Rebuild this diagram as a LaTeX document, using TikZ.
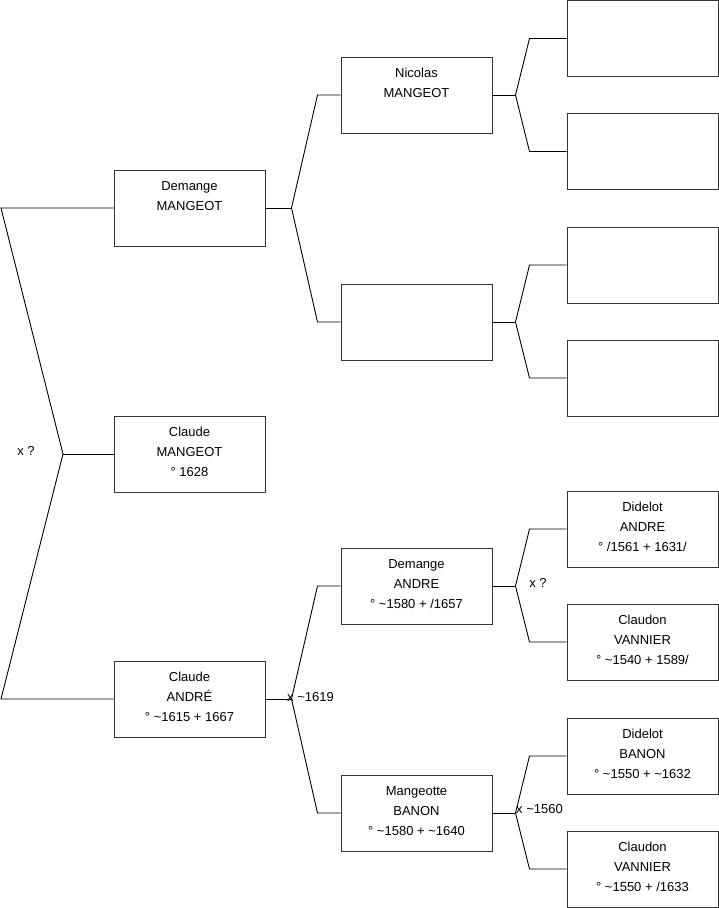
\documentclass[tikz,border=0pt]{standalone}
\usepackage{fontspec}
\setmainfont{Liberation Sans}
\newcommand\lastrow{\rule[-10pt]{0pt}{10pt}}
\begin{document}
\begin{tikzpicture}[x=1pt,y=-1pt,
  box/.style={draw=black!80, line width=1pt, minimum width=151pt, minimum height=76pt, inner sep=0pt, align=center, font=\fontsize{13}{20}\selectfont},
  conn/.style={line width=0.9pt, black},
  lbl/.style={font=\fontsize{13}{15}\selectfont, inner sep=0pt}]
\useasboundingbox (0,0) rectangle (719,908);
% left column
\node[box] (dm) at (189.5,208) {\strut Demange\\\strut MANGEOT\\\lastrow};
\node[box] (cm) at (189.5,454) {\strut Claude\\\strut MANGEOT\\\lastrow° 1628};
\node[box] (ca) at (189.5,699) {\strut Claude\\\strut ANDRÉ\\\lastrow° \textasciitilde1615 + 1667};
% middle column
\node[box] (nm) at (416.5,95) {\strut Nicolas\\\strut MANGEOT\\\lastrow};
\node[box] (e1) at (416.5,322) {};
\node[box] (da) at (416.5,586) {\strut Demange\\\strut ANDRE\\\lastrow° \textasciitilde1580 + /1657};
\node[box] (mb) at (416.5,813) {\strut Mangeotte\\\strut BANON\\\lastrow° \textasciitilde1580 + \textasciitilde1640};
% right column
\node[box] (r1) at (642.5,38.5) {};
\node[box] (r2) at (642.5,151.5) {};
\node[box] (r3) at (642.5,265) {};
\node[box] (r4) at (642.5,378) {};
\node[box] (r5) at (642.5,529) {\strut Didelot\\\strut ANDRE\\\lastrow° /1561 + 1631/};
\node[box] (r6) at (642.5,642) {\strut Claudon\\\strut VANNIER\\\lastrow° \textasciitilde1540 + 1589/};
\node[box] (r7) at (642.5,756) {\strut Didelot\\\strut BANON\\\lastrow° \textasciitilde1550 + \textasciitilde1632};
\node[box] (r8) at (642.5,869) {\strut Claudon\\\strut VANNIER\\\lastrow° \textasciitilde1550 + /1633};
% left bracket
\coordinate (L1) at (1,208);
\coordinate (L2) at (1,699);
\coordinate (f0) at (63,454);
\draw[conn] (dm.west) -- (L1) -- (f0) -- (L2) -- (ca.west);
\draw[conn] (f0) -- (cm.west);
\node[lbl] (x0) at (26,451) {x ?};
% forks from left column
\draw[conn] (dm.east) -- ++(26,0) coordinate (f1);
\draw[conn] (nm.west) -- ([xshift=-23pt]nm.west) -- (f1) -- ([xshift=-23pt]e1.west) -- (e1.west);
\draw[conn] (ca.east) -- ++(26,0) coordinate (f2);
\draw[conn] (da.west) -- ([xshift=-23pt]da.west) -- (f2) -- ([xshift=-23pt]mb.west) -- (mb.west);
\node[lbl, anchor=west] (x1) at (287,697) {x \textasciitilde1619};
% forks from middle column
\draw[conn] (nm.east) -- ++(23,0) coordinate (f3);
\draw[conn] (r1.west) -- ([xshift=-37pt]r1.west) -- (f3) -- ([xshift=-37pt]r2.west) -- (r2.west);
\draw[conn] (e1.east) -- ++(23,0) coordinate (f4);
\draw[conn] (r3.west) -- ([xshift=-37pt]r3.west) -- (f4) -- ([xshift=-37pt]r4.west) -- (r4.west);
\draw[conn] (da.east) -- ++(23,0) coordinate (f5);
\draw[conn] (r5.west) -- ([xshift=-37pt]r5.west) -- (f5) -- ([xshift=-37pt]r6.west) -- (r6.west);
\node[lbl] (x2) at (538,583) {x ?};
\draw[conn] (mb.east) -- ++(23,0) coordinate (f6);
\draw[conn] (r7.west) -- ([xshift=-37pt]r7.west) -- (f6) -- ([xshift=-37pt]r8.west) -- (r8.west);
\node[lbl, anchor=west] (x3) at (516,809) {x \textasciitilde1560};
\end{tikzpicture}
\end{document}
